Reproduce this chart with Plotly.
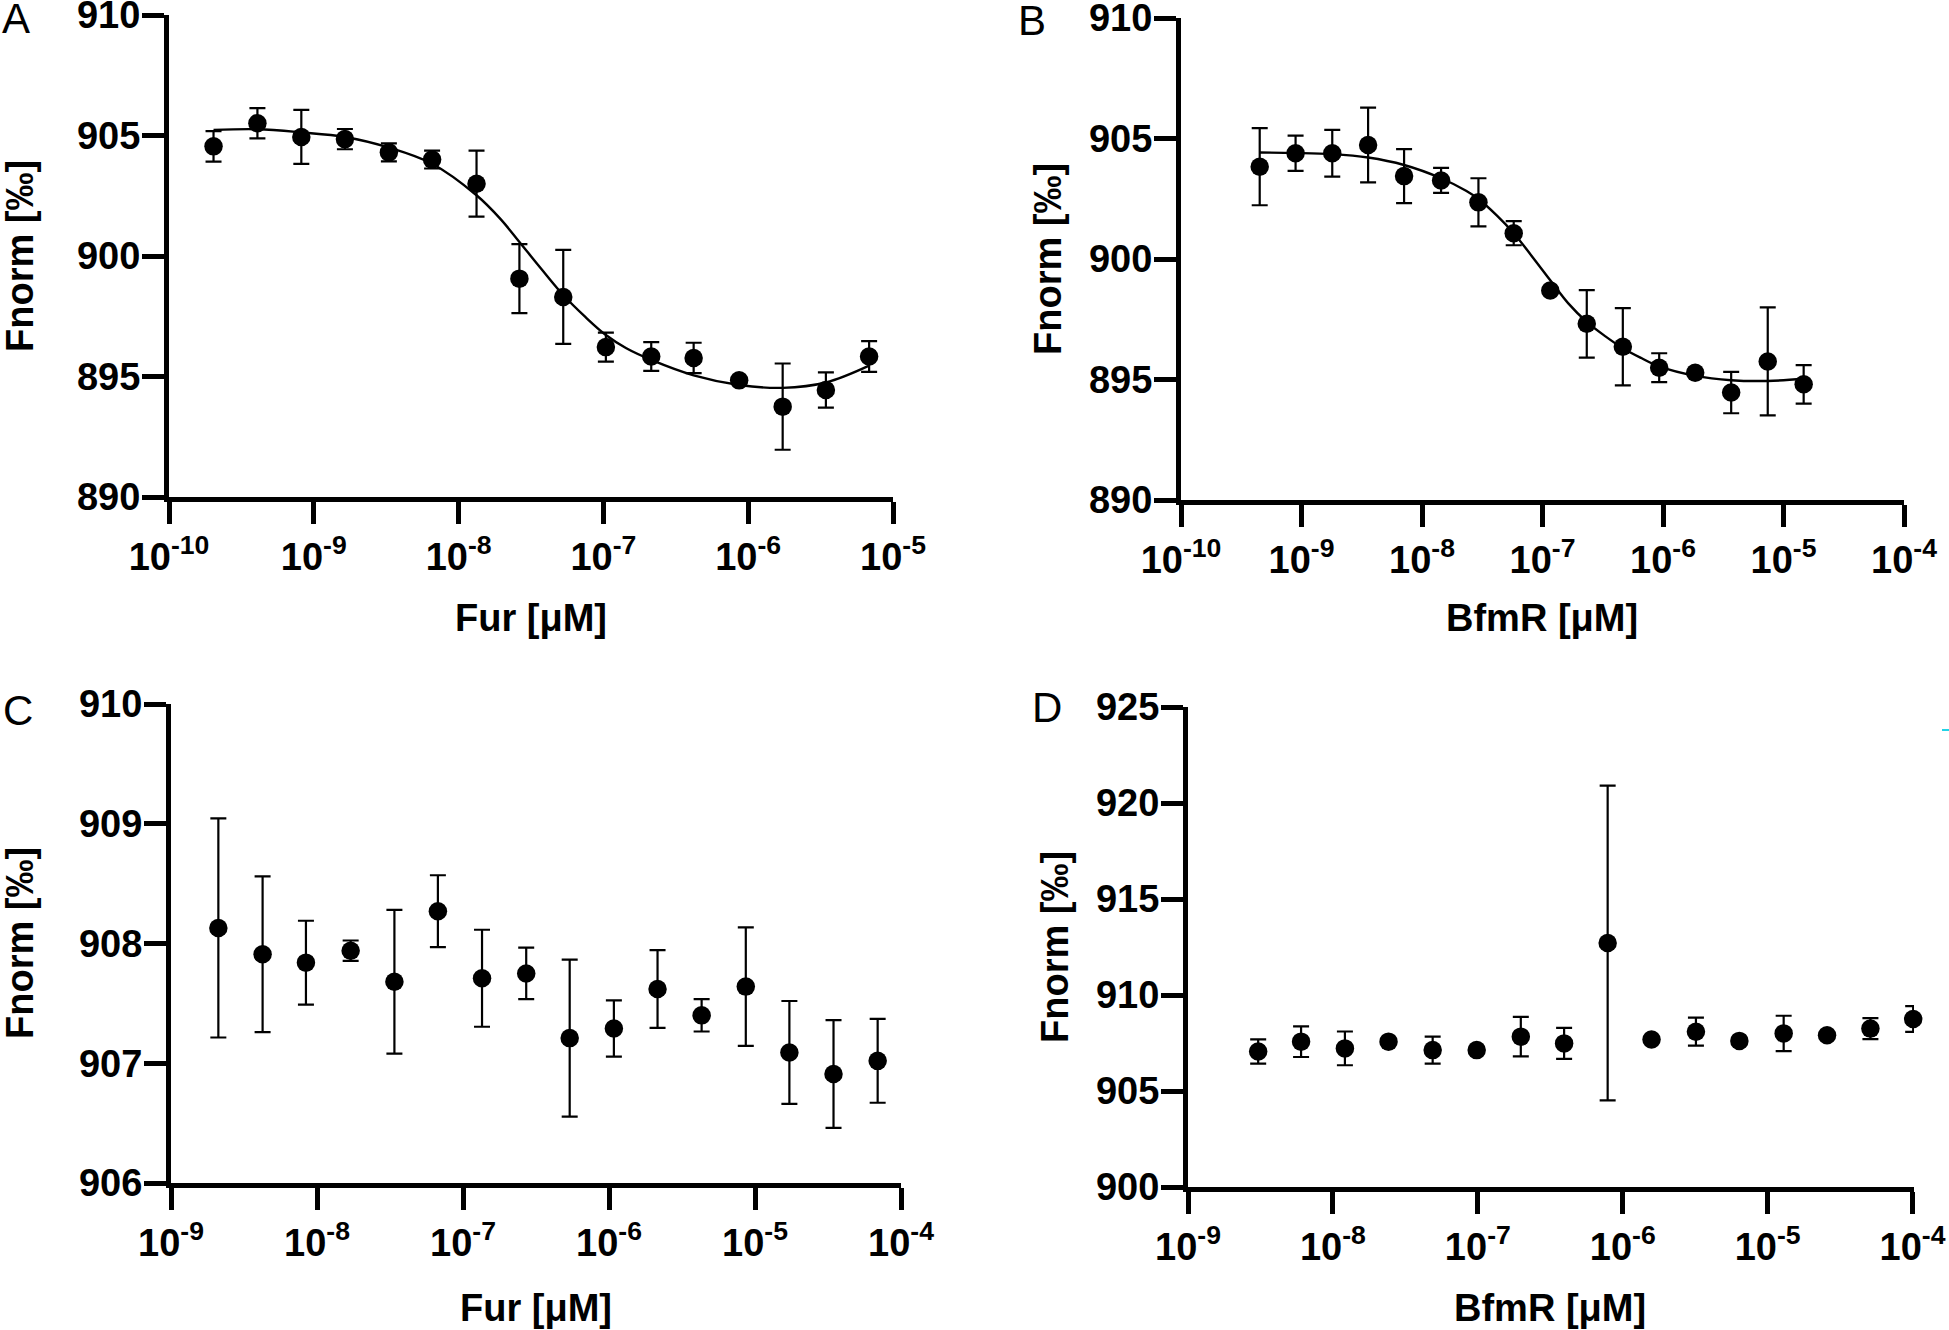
import plotly.graph_objects as go

W, H = 1949, 1330

# ---------------- data ----------------
# Panel A: Fur titration
a_conc = [2.03e-10, 4.08e-10, 8.2e-10, 1.64e-9, 3.3e-9, 6.56e-9, 1.33e-8, 2.63e-8,
          5.28e-8, 1.04e-7, 2.14e-7, 4.2e-7, 8.66e-7, 1.73e-6, 3.44e-6, 6.84e-6]
a_fnorm = [904.55, 905.51, 904.94, 904.85, 904.30, 904.00, 903.00, 899.06,
           898.30, 896.22, 895.83, 895.77, 894.84, 893.75, 894.44, 895.83]
a_sd = [0.63, 0.63, 1.12, 0.42, 0.37, 0.37, 1.37, 1.43,
        1.95, 0.60, 0.60, 0.63, 0.10, 1.79, 0.73, 0.64]
a_fit_conc = [2.03e-10, 4.08e-10, 8.2e-10, 1.64e-9, 3.3e-9, 6.56e-9, 1.33e-8, 1.95e-8,
              2.63e-8, 3.73e-8, 5.28e-8, 7.5e-8, 1.04e-7, 1.44e-7, 2.14e-7, 4.2e-7,
              8.66e-7, 1.73e-6, 3.44e-6, 6.84e-6]
a_fit_fnorm = [905.23, 905.26, 905.13, 904.94, 904.50, 903.83, 902.52, 901.53,
               900.58, 899.46, 898.38, 897.47, 896.72, 896.17, 895.69, 895.05,
               894.65, 894.53, 894.75, 895.45]

# Panel B: BfmR titration
b_conc = [4.5e-10, 8.93e-10, 1.8e-9, 3.57e-9, 7.1e-9, 1.44e-8, 2.94e-8, 5.77e-8,
          1.16e-7, 2.33e-7, 4.64e-7, 9.3e-7, 1.85e-6, 3.68e-6, 7.4e-6, 1.47e-5]
b_fnorm = [903.83, 904.39, 904.39, 904.73, 903.44, 903.26, 902.35, 901.07,
           898.69, 897.31, 896.36, 895.49, 895.28, 894.46, 895.75, 894.80]
b_sd = [1.60, 0.73, 0.97, 1.55, 1.12, 0.52, 1.00, 0.50,
        0.10, 1.40, 1.60, 0.60, 0.10, 0.86, 2.24, 0.80]
b_fit_conc = [4.5e-10, 8.93e-10, 1.8e-9, 3.57e-9, 7.1e-9, 1.44e-8, 2.32e-8, 2.94e-8,
              4.19e-8, 5.77e-8, 8.04e-8, 1.16e-7, 1.63e-7, 2.33e-7, 3.33e-7, 4.64e-7,
              6.61e-7, 9.31e-7, 1.85e-6, 3.68e-6, 7.4e-6, 1.47e-5]
b_fit_fnorm = [904.42, 904.40, 904.35, 904.21, 903.90, 903.35, 902.83, 902.49,
               901.80, 901.07, 900.16, 899.12, 898.17, 897.39, 896.79, 896.30,
               895.89, 895.54, 895.15, 894.97, 894.94, 895.03]

# Panel C: Fur control
c_conc = [2.11e-9, 4.24e-9, 8.4e-9, 1.7e-8, 3.39e-8, 6.73e-8, 1.35e-7, 2.71e-7,
          5.38e-7, 1.08e-6, 2.15e-6, 4.31e-6, 8.65e-6, 1.72e-5, 3.45e-5, 6.92e-5]
c_fnorm = [908.13, 907.91, 907.84, 907.94, 907.68, 908.27, 907.71, 907.75,
           907.21, 907.29, 907.62, 907.40, 907.64, 907.09, 906.91, 907.02]
c_sd = [0.915, 0.65, 0.35, 0.085, 0.60, 0.30, 0.405, 0.215,
        0.655, 0.235, 0.325, 0.135, 0.495, 0.43, 0.45, 0.35]

# Panel D: BfmR control
d_conc = [3.05e-9, 6.03e-9, 1.21e-8, 2.42e-8, 4.88e-8, 9.82e-8, 1.98e-7, 3.94e-7,
          7.87e-7, 1.58e-6, 3.2e-6, 6.38e-6, 1.29e-5, 2.57e-5, 5.12e-5, 1.01e-4]
d_fnorm = [907.06, 907.57, 907.22, 907.57, 907.13, 907.13, 907.83, 907.48,
           912.71, 907.68, 908.09, 907.61, 908.00, 907.90, 908.25, 908.75]
d_sd = [0.63, 0.80, 0.88, 0.10, 0.70, 0.10, 1.03, 0.81,
        8.20, 0.10, 0.73, 0.10, 0.92, 0.10, 0.55, 0.67]

# tick labels
x_exp_ab = [-10, -9, -8, -7, -6, -5, -4]
x_exp_cd = [-9, -8, -7, -6, -5, -4]
y_ticks_ab = [890, 895, 900, 905, 910]
y_ticks_c = [906, 907, 908, 909, 910]
y_ticks_d = [900, 905, 910, 915, 920, 925]

panel_letters = ["A", "B", "C", "D"]
x_titles = ["Fur [μM]", "BfmR [μM]", "Fur [μM]", "BfmR [μM]"]
y_title = "Fnorm [‰]"

# ---------------- layout geometry (pixels) ----------------
# (left, right, top, bottom) of each plot area
boxes = {
    1: (169, 893, 15, 497),
    2: (1181, 1904, 18, 500),
    3: (171, 901, 704, 1183),
    4: (1188, 1914, 707, 1187),
}
xranges = {1: (-10, -5), 2: (-10, -4), 3: (-9, -4), 4: (-9, -3.99)}
yranges = {1: (890, 910), 2: (890, 910), 3: (906, 910), 4: (900, 925)}
yticks = {1: y_ticks_ab, 2: y_ticks_ab, 3: y_ticks_c, 4: y_ticks_d}

FONT = "Liberation Sans, Arial, sans-serif"

fig = go.Figure()

def add_points(i, xs, ys, sd):
    fig.add_trace(go.Scatter(
        x=xs, y=ys, mode="markers",
        marker=dict(color="black", size=18.5, symbol="circle"),
        error_y=dict(type="data", array=sd, visible=True, color="black",
                     thickness=2.2, width=8),
        xaxis=f"x{i}" if i > 1 else "x", yaxis=f"y{i}" if i > 1 else "y",
        cliponaxis=False, showlegend=False))

def add_fit(i, xs, ys):
    fig.add_trace(go.Scatter(
        x=xs, y=ys, mode="lines", line=dict(color="black", width=2.4, shape="spline", smoothing=1.0),
        xaxis=f"x{i}" if i > 1 else "x", yaxis=f"y{i}" if i > 1 else "y",
        cliponaxis=False, showlegend=False, hoverinfo="skip"))

add_fit(1, a_fit_conc, a_fit_fnorm)
add_points(1, a_conc, a_fnorm, a_sd)
add_fit(2, b_fit_conc, b_fit_fnorm)
add_points(2, b_conc, b_fnorm, b_sd)
add_points(3, c_conc, c_fnorm, c_sd)
add_points(4, d_conc, d_fnorm, d_sd)

layout = dict(
    width=W, height=H,
    margin=dict(l=0, r=0, t=0, b=0, autoexpand=False),
    paper_bgcolor="white", plot_bgcolor="white",
    showlegend=False,
    font=dict(family=FONT, color="black"),
)

annotations = []
for i in range(1, 5):
    l, r, t, b = boxes[i]
    xk = "xaxis" if i == 1 else f"xaxis{i}"
    yk = "yaxis" if i == 1 else f"yaxis{i}"
    exps = x_exp_ab if i <= 2 else x_exp_cd
    lo, hi = xranges[i]
    exps = [e for e in exps if lo <= e <= hi]
    axis_common = dict(
        showline=True, linewidth=5, linecolor="black", mirror=False,
        ticks="outside", ticklen=22, tickwidth=5, tickcolor="black",
        showgrid=False, zeroline=False, automargin=False,
        ticklabeloverflow="allow",
        tickfont=dict(family=FONT, size=38, color="black", weight="bold"),
    )
    layout[xk] = dict(
        type="log", range=list(xranges[i]), domain=[l / W, r / W],
        anchor="y" if i == 1 else f"y{i}",
        tickvals=[10.0 ** e for e in exps],
        ticktext=[f"10<sup>{e}</sup>" for e in exps],
        **axis_common,
    )
    layout[yk] = dict(
        range=list(yranges[i]), domain=[1 - b / H, 1 - t / H],
        anchor="x" if i == 1 else f"x{i}",
        tickvals=yticks[i], ticktext=[str(v) for v in yticks[i]],
        ticklabelstandoff=-6,
        **axis_common,
    )

# axis titles and panel letters (pixel positions)
x_title_pos = [(531, 618), (1542, 618), (536, 1308), (1550, 1308)]
y_title_pos = [(20, 256), (1048, 259), (20, 943), (1055, 947)]
letter_pos = [(16, 19), (1032, 20), (18, 710), (1047, 707)]

for k in range(4):
    xp, yp = x_title_pos[k]
    annotations.append(dict(
        text=x_titles[k], x=xp / W, y=1 - yp / H, xref="paper", yref="paper",
        xanchor="center", yanchor="middle", showarrow=False,
        font=dict(family=FONT, size=38, color="black", weight="bold")))
    xp, yp = y_title_pos[k]
    annotations.append(dict(
        text=y_title, x=xp / W, y=1 - yp / H, xref="paper", yref="paper",
        xanchor="center", yanchor="middle", showarrow=False, textangle=-90,
        font=dict(family=FONT, size=38, color="black", weight="bold")))
    xp, yp = letter_pos[k]
    annotations.append(dict(
        text=panel_letters[k], x=xp / W, y=1 - yp / H, xref="paper", yref="paper",
        xanchor="center", yanchor="middle", showarrow=False,
        font=dict(family=FONT, size=42, color="black")))

layout["annotations"] = annotations
# small cyan stray mark at the right edge seen in the source image
layout["shapes"] = [dict(type="line", xref="paper", yref="paper",
                         x0=1942 / W, x1=1949 / W, y0=1 - 730 / H, y1=1 - 730 / H,
                         line=dict(color="#22d3e6", width=2))]
fig.update_layout(**layout)

fig.write_html(
    "out.html",
    config={"displayModeBar": False},
    post_script="document.body.style.margin='0';document.body.style.padding='0';document.body.style.overflow='hidden';",
)
